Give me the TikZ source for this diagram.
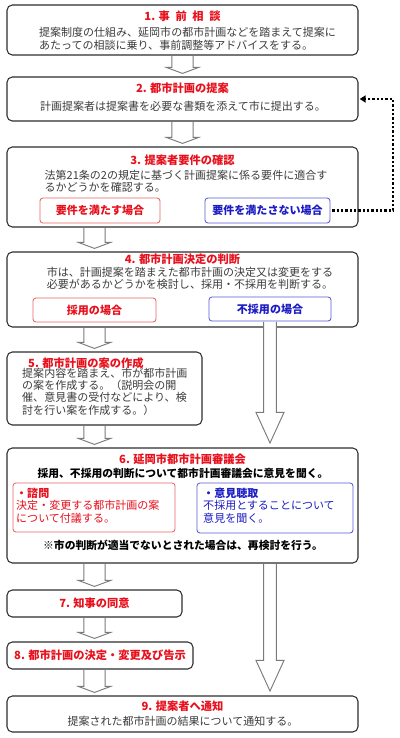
\documentclass[tikz,border=0pt]{standalone}
\usepackage{fontspec}
\setmainfont{Noto Sans CJK JP}
\usepackage{tikz}
\usetikzlibrary{arrows.meta,calc}
\definecolor{titlered}{HTML}{E8101C}
\definecolor{okline}{HTML}{E86464}
\definecolor{ngline}{HTML}{5A5AD8}
\definecolor{ngblue}{HTML}{1C1CC4}
\definecolor{bodytext}{HTML}{3C3C3C}
\definecolor{boxline}{HTML}{2E2E2E}
\definecolor{arrowline}{HTML}{7A7A7A}

\begin{document}
\begin{tikzpicture}[x=0.03cm,y=-0.03cm,
  box/.style={draw=boxline,line width=0.9pt,rounded corners=4.5pt,fill=white,inner sep=0pt},
  okbox/.style={draw=okline,line width=0.7pt,rounded corners=2.5pt,fill=white,inner sep=0pt,
    text=titlered,font=\fontsize{9.4}{11}\selectfont\bfseries},
  ngbox/.style={draw=ngline,line width=0.7pt,rounded corners=2.5pt,fill=white,inner sep=0pt,
    text=ngblue,font=\fontsize{9.4}{11}\selectfont\bfseries},
  head/.style={text=titlered,inner sep=0pt,font=\fontsize{9.6}{11}\selectfont\bfseries},
  body/.style={text=bodytext,inner sep=0pt,align=left,font=\fontsize{9.4}{10.6}\selectfont},
  note/.style={text=black,inner sep=0pt,font=\fontsize{9.2}{11}\selectfont\bfseries},
  hollow/.style={draw=arrowline,fill=white,line width=0.8pt,line join=miter},
  loopline/.style={line width=2pt,dash pattern=on 2pt off 1.7pt,shorten <=1.5pt,shorten >=1pt,
    -{Triangle[length=5pt,width=6pt]}}
]
\useasboundingbox (0,0) rectangle (400,738);

%========================
% Riquadri principali
%========================

\node[box,minimum width=10.53cm,minimum height=1.5cm] (b1) at (182.5,30) {};
\node[box,minimum width=10.53cm,minimum height=1.32cm] (b2) at (182.5,99) {};
\node[box,minimum width=10.53cm,minimum height=2.4cm] (b3) at (182.5,187) {};
\node[box,minimum width=10.53cm,minimum height=2.25cm] (b4) at (182.5,289.5) {};
\node[box,minimum width=5.85cm,minimum height=2.19cm] (b5) at (104.5,388.5) {};
\node[box,minimum width=10.53cm,minimum height=3.45cm] (b6) at (182.5,505.5) {};
\node[box,minimum width=5.25cm,minimum height=0.81cm,text=titlered,
  font=\fontsize{9.6}{11}\selectfont\bfseries] (b7) at (94.5,603.5) {7. 知事の同意};
\node[box,minimum width=5.58cm,minimum height=0.81cm,text=titlered,
  font=\fontsize{9.6}{11}\selectfont\bfseries] (b8) at (100,655.5) {8. 都市計画の決定・変更及び告示};
\node[box,minimum width=10.53cm,minimum height=1.08cm] (b9) at (182.5,714) {};

%========================
% Riquadri interni
%========================

\node[okbox,minimum width=3.6cm,minimum height=0.75cm] (s3a) at (100,210.5) {要件を満たす場合};
\node[ngbox,minimum width=3.75cm,minimum height=0.75cm] (s3b) at (267.5,210.5) {要件を満たさない場合};
\node[okbox,minimum width=3.69cm,minimum height=0.72cm] (s4a) at (94.5,310) {採用の場合};
\node[ngbox,minimum width=3.66cm,minimum height=0.72cm] (s4b) at (270,309) {不採用の場合};
\node[okbox,minimum width=4.86cm,minimum height=1.47cm] (s6a) at (94,507.5) {};
\node[ngbox,minimum width=4.68cm,minimum height=1.5cm] (s6b) at (275,508) {};

%========================
% Testi
%========================

\node[head] (t1) at (182.5,16) {1. 事\hspace{.5em}前\hspace{.5em}相\hspace{.5em}談};
\node[body] (d1) at (187.5,39) {提案制度の仕組み、延岡市の都市計画などを踏まえて提案に\\
  あたっての相談に乗り、事前調整等アドバイスをする。};

\node[head] (t2) at (182.5,88) {2. 都市計画の提案};
\node[body] (d2) at (183,106) {計画提案者は提案書を必要な書類を添えて市に提出する。};

\node[head] (t3) at (182.5,160) {3. 提案者要件の確認};
\node[body] (d3) at (186,181) {法第21条の2の規定に基づく計画提案に係る要件に適合す\\
  るかどうかを確認する。};

\node[head] (t4) at (182.5,259) {4. 都市計画決定の判断};
\node[body] (d4) at (190,278.5) {市は、計画提案を踏まえた都市計画の決定又は変更をする\\
  必要があるかどうかを検討し、採用・不採用を判断する。};

\node[head,anchor=west] (t5) at (28,363) {5. 都市計画の案の作成};
\node[body,anchor=west] (d5) at (22,391.5) {提案内容を踏まえ、市が都市計画\\
  の案を作成する。（説明会の開\\
  催、意見書の受付などにより、検\\
  討を行い案を作成する。）};

\node[head] (t6) at (182.5,459) {6. 延岡市都市計画審議会};
\node[note] (q6) at (183,473) {採用、不採用の判断について都市計画審議会に意見を聞く。};
\node[body,anchor=west,text=titlered] (p6a) at (16,505.5) {\textbf{・諮問}\\
  決定・変更する都市計画の案\\
  について付議する。};
\node[body,anchor=west,text=ngblue] (p6b) at (203,505.5) {\textbf{・意見聴取}\\
  不採用とすることについて\\
  意見を聞く。};
\node[note] (n6) at (183,545) {※市の判断が適当でないとされた場合は、再検討を行う。};

\node[head] (t9) at (182.5,706) {9. 提案者へ通知};
\node[body] (d9) at (183,721) {提案された都市計画の結果について通知する。};

%========================
% Frecce
%========================

% frecce corte
\foreach \a/\b/\c in {b1/b2/b1,b2/b3/b1,b3/b4/b7,b4/b5/b7,b5/b6/b7,b6/b7/b7,b7/b8/b7,b8/b9/b7}
{
    \draw[hollow] let \p1=(\a.south -| \c), \p2=(\b.north -| \c) in
    (\x1-9pt,\y1-0.5pt) -- (\x1-9pt,\y2+7.7pt) -- (\x1-13.7pt,\y2+7.7pt) -- (\x1,\y2+2.6pt)
    -- (\x1+13.7pt,\y2+7.7pt) -- (\x1+9pt,\y2+7.7pt) -- (\x1+9pt,\y1-0.5pt);
}

% frecce lunghe
\foreach \a/\b in {s4b/b6,b6/b9}
{
    \draw[hollow] let \p1=(\a.south -| s4b), \p2=(\b.north -| s4b) in
    (\x1-5.5pt,\y1-0.5pt) -- (\x1-5.5pt,\y2+30pt) -- (\x1-12pt,\y2+30pt) -- (\x1,\y2+3.8pt)
    -- (\x1+12pt,\y2+30pt) -- (\x1+5.5pt,\y2+30pt) -- (\x1+5.5pt,\y1-0.5pt);
}

% ritorno tratteggiato
\coordinate (bend) at (393,210.5);
\draw[loopline] (s3b.east) -- (bend) |- (b2.east);

\end{tikzpicture}
\end{document}
